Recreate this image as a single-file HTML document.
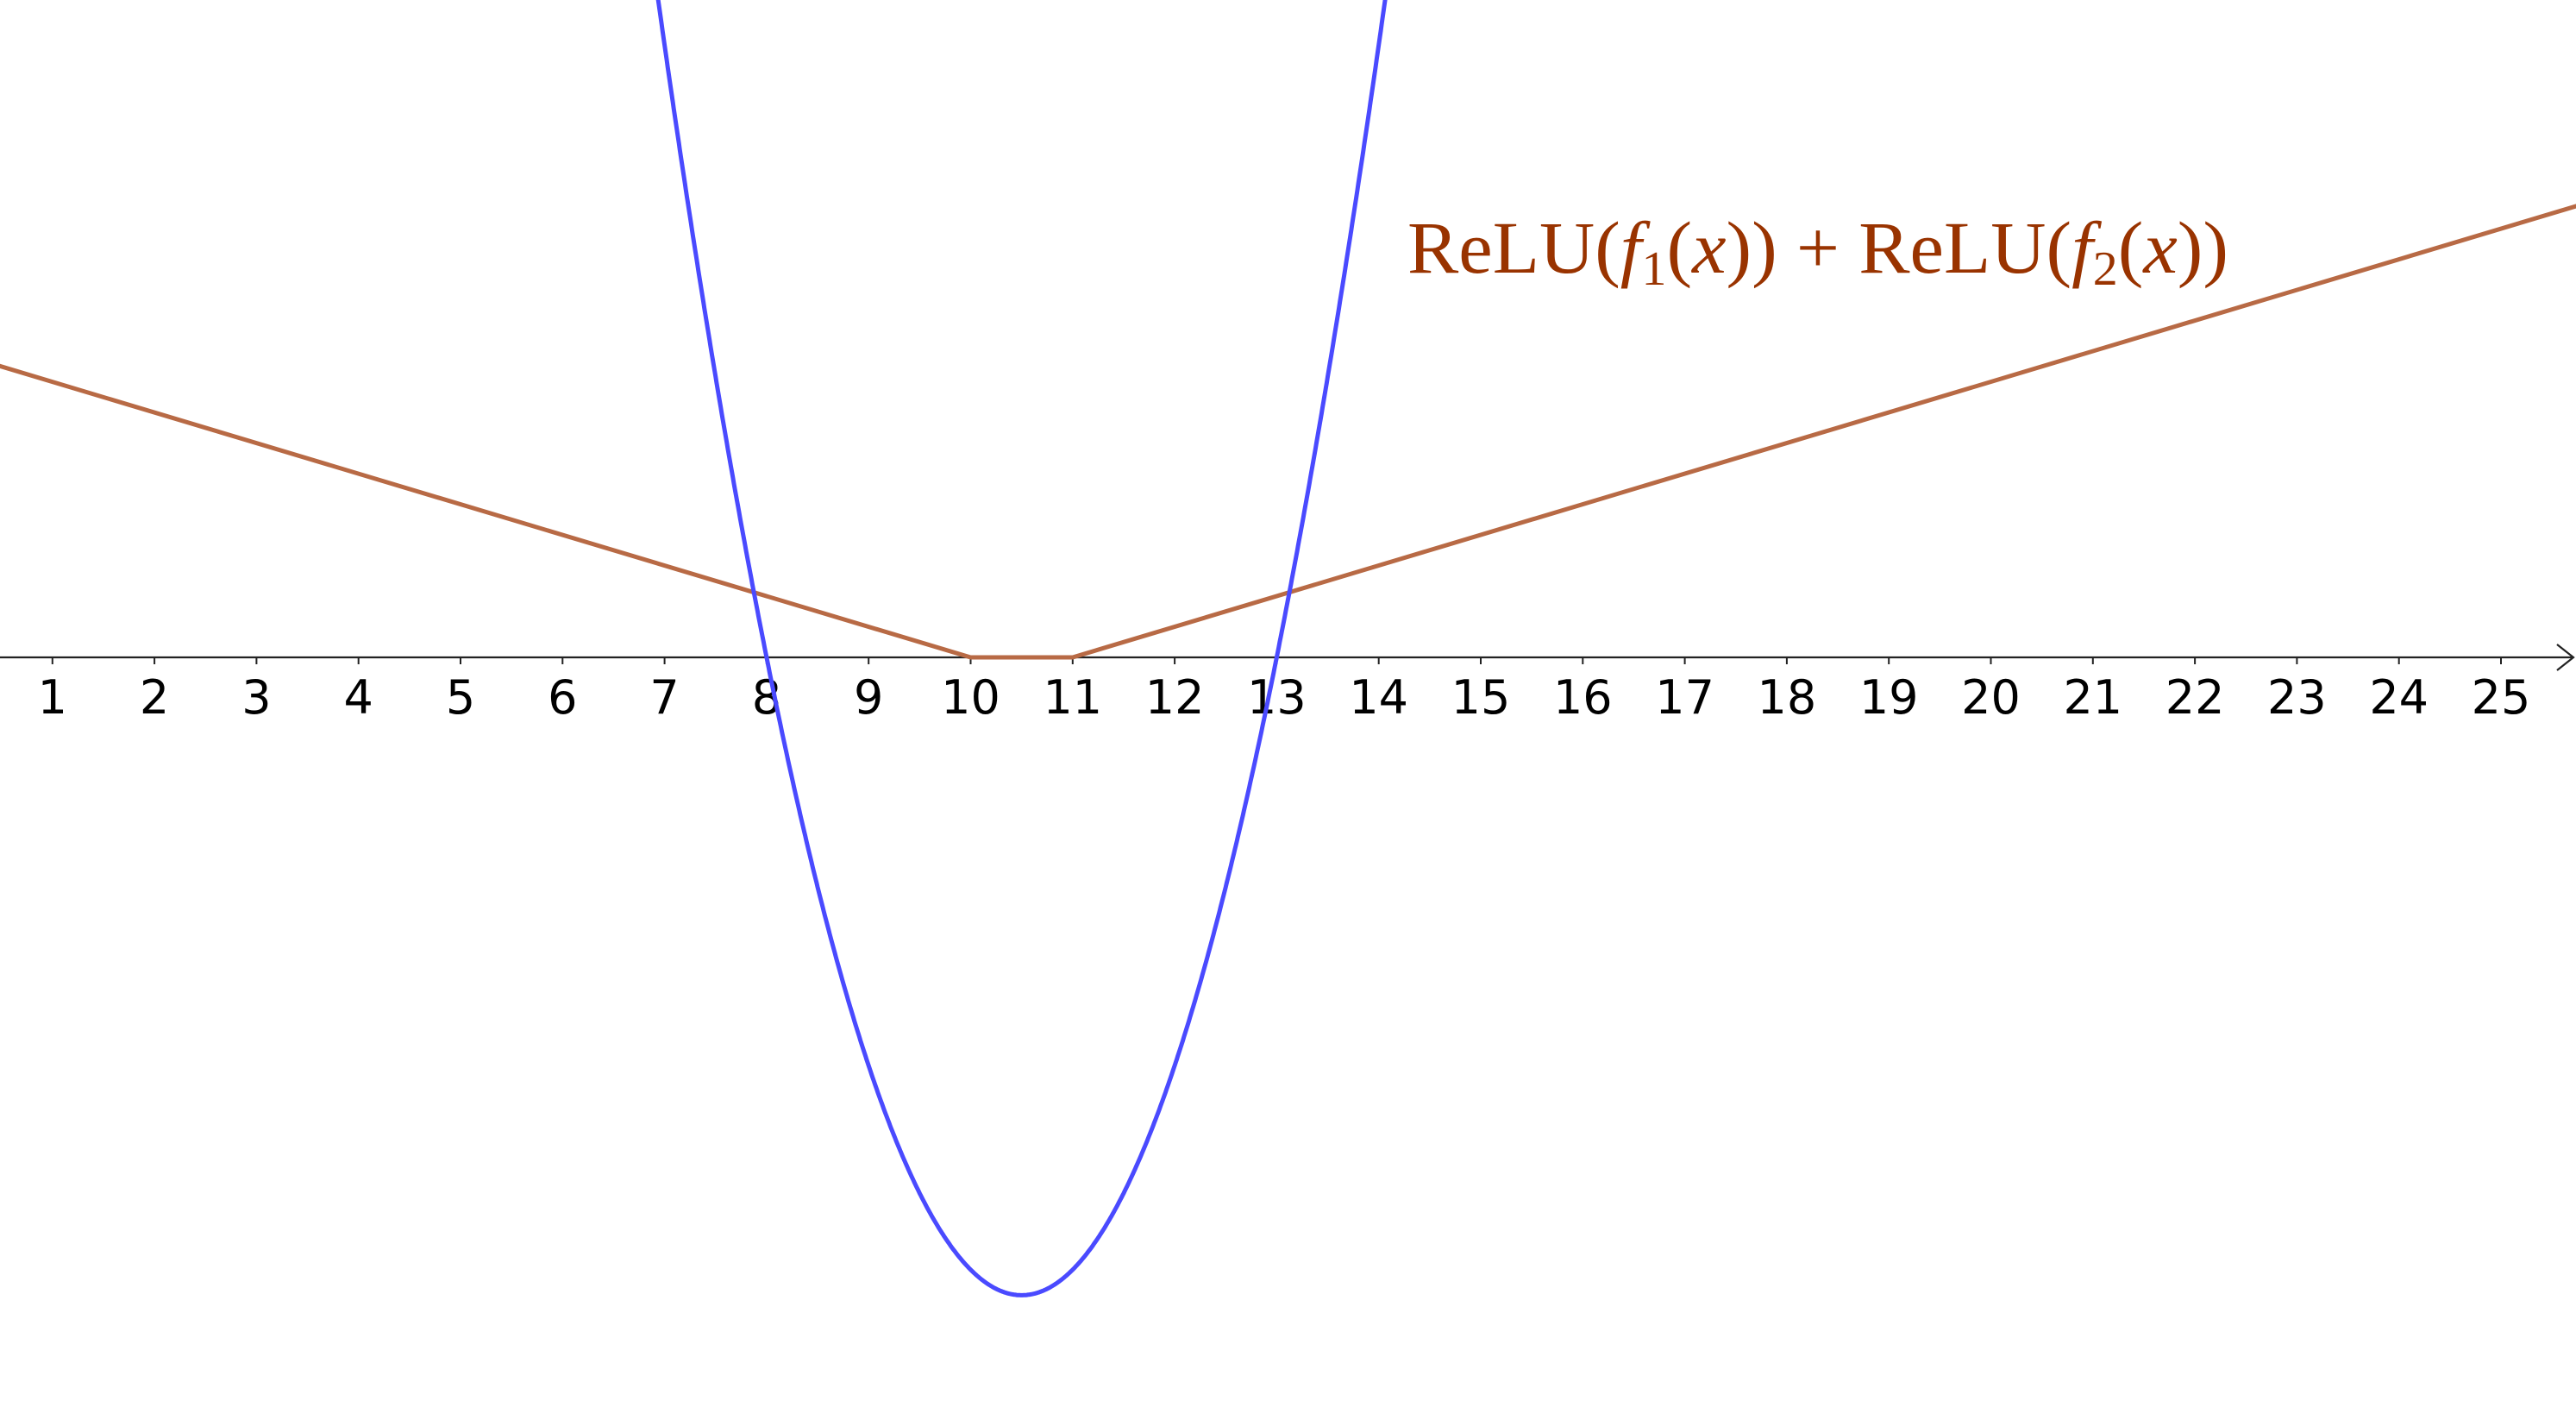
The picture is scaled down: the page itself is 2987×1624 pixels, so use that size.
<!DOCTYPE html>
<html><head><meta charset="utf-8"><style>
html,body{margin:0;padding:0;background:#fff;}
svg{display:block;}
</style></head><body>
<svg id="chart" width="2987" height="1624" viewBox="0 0 2987 1624" xmlns="http://www.w3.org/2000/svg">
<g id="axis"></g>
<g id="curves"></g>
<text x="1632" y="316" textLength="952" lengthAdjust="spacingAndGlyphs" font-family="'Liberation Serif', serif" font-size="86" fill="#993300">ReLU(<tspan font-style="italic">f</tspan><tspan font-size="56" dy="14">1</tspan><tspan dy="-14">(</tspan><tspan font-style="italic">x</tspan>)) + ReLU(<tspan font-style="italic">f</tspan><tspan font-size="56" dy="14">2</tspan><tspan dy="-14">(</tspan><tspan font-style="italic">x</tspan>))</text>
</svg>
<script>
const tickLabels = [1,2,3,4,5,6,7,8,9,10,11,12,13,14,15,16,17,18,19,20,21,22,23,24,25];
const parabolaRoots = [8, 13];
const reluKinks = [10, 11];
const reluSlopes = [-0.3, 0.3];
const xDomain = [-0.5, 25.8];

const NS = "http://www.w3.org/2000/svg";
const unit = 118.3, x0 = -57.5, y0 = 762;
const sx = v => x0 + v * unit;
const sy = v => y0 - v * unit;
const axis = document.getElementById('axis');
const curves = document.getElementById('curves');

const line = document.createElementNS(NS, 'line');


line.setAttribute('x1', 0); line.setAttribute('y1', y0);
line.setAttribute('x2', 2984); line.setAttribute('y2', y0);
line.setAttribute('stroke', '#222'); line.setAttribute('stroke-width', 2.2);
axis.appendChild(line);
const arrow = document.createElementNS(NS, 'path');


arrow.setAttribute('d', `M2965 ${y0-15} L2984 ${y0} L2965 ${y0+15}`);
arrow.setAttribute('stroke', '#222'); arrow.setAttribute('stroke-width', 2.2); arrow.setAttribute('fill', 'none');
axis.appendChild(arrow);

tickLabels.forEach(v => {
  const t = document.createElementNS(NS, 'line');
  
  
  t.setAttribute('x1', sx(v)); t.setAttribute('x2', sx(v));
  t.setAttribute('y1', y0); t.setAttribute('y2', y0 + 8);
  t.setAttribute('stroke', '#222'); t.setAttribute('stroke-width', 2);
  axis.appendChild(t);
  const l = document.createElementNS(NS, 'text');
  
  
  l.setAttribute('x', sx(v)); l.setAttribute('y', 827);
  l.setAttribute('text-anchor', 'middle');
  l.setAttribute('font-family', "'DejaVu Sans', sans-serif");
  l.setAttribute('font-size', 54);
  l.textContent = v;
  axis.appendChild(l);
});

// ReLU sum
const relu = x => Math.max(0, reluSlopes[0] * (x - reluKinks[0])) + Math.max(0, reluSlopes[1] * (x - reluKinks[1]));
let d = '';
[xDomain[0], reluKinks[0], reluKinks[1], xDomain[1]].forEach((x, i) => {
  d += (i ? 'L' : 'M') + sx(x).toFixed(1) + ' ' + sy(relu(x)).toFixed(1) + ' ';
});
const rp = document.createElementNS(NS, 'path');


rp.setAttribute('d', d);
rp.setAttribute('stroke', '#b86a45'); rp.setAttribute('stroke-width', 5); rp.setAttribute('fill', 'none');
curves.appendChild(rp);

// Parabola
const f = x => (x - parabolaRoots[0]) * (x - parabolaRoots[1]);
let pd = '';
for (let i = 0; i <= 800; i++) {
  const x = 6.5 + i * (14.5 - 6.5) / 800;
  const y = Math.max(-200, Math.min(1800, sy(f(x))));
  pd += (i ? 'L' : 'M') + sx(x).toFixed(1) + ' ' + y.toFixed(1) + ' ';
}
const pp = document.createElementNS(NS, 'path');


pp.setAttribute('d', pd);
pp.setAttribute('stroke', '#4a4aff'); pp.setAttribute('stroke-width', 5); pp.setAttribute('fill', 'none');
curves.appendChild(pp);
</script>
</body></html>
